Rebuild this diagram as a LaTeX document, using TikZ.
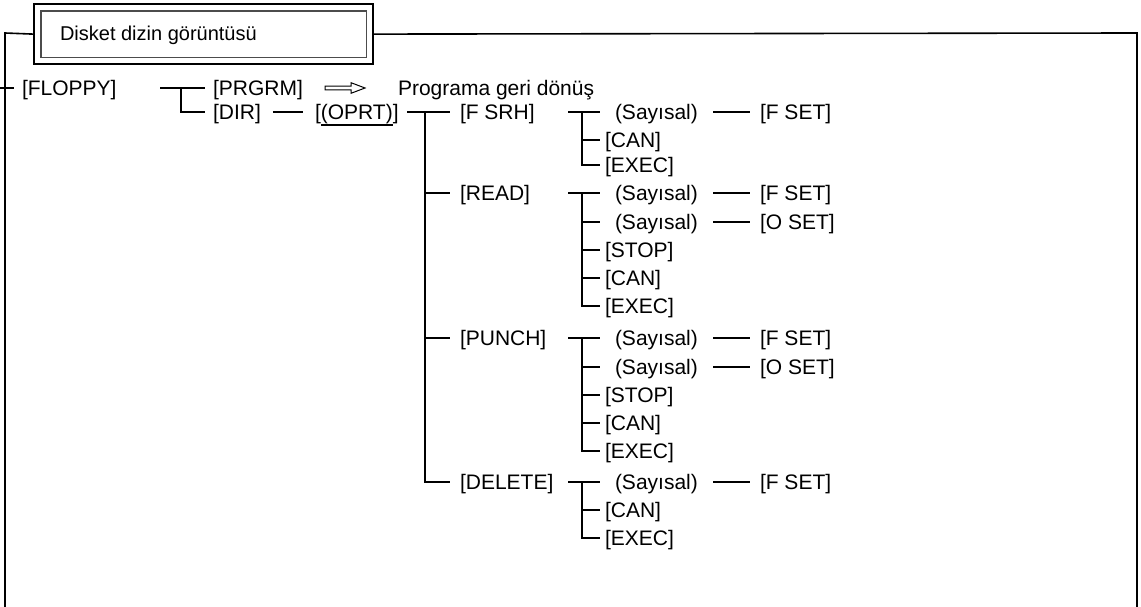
\documentclass[tikz,border=0pt]{standalone}
\usepackage{fontspec}
\setmainfont{Liberation Sans}
\usetikzlibrary{calc}
\newcommand\ulbox[1]{\setbox0\hbox{#1}\leavevmode\rlap{\rule[-6.2pt]{\wd0}{1.7pt}}\box0}
\def\yF{88}
\def\rA{112}\def\rB{140}\def\rC{165}
\def\rD{193}\def\rE{222}\def\rF{250}\def\rG{278}\def\rH{306}
\def\rI{338}\def\rJ{367}\def\rK{395}\def\rL{423}\def\rM{451}
\def\rN{482}\def\rO{510}\def\rP{538}
\begin{document}
\begin{tikzpicture}[x=1pt,y=-1pt,
  lbl/.style={anchor=west, inner sep=0pt, outer sep=0pt, text height=15pt, text depth=0pt, font=\fontsize{21}{25}\selectfont},
  con/.style={line width=1.6pt},
  framel/.style={line width=1.6pt},
  hdrbox/.style={draw, line width=2.2pt, anchor=north west, inner sep=0pt, minimum width=339pt, minimum height=60pt}]
\useasboundingbox (0,0) rectangle (1141,607);
% header
\node[hdrbox] (hdr) at (33,3) {};
\draw[line width=1.2pt, draw=black!70] ($(hdr.north west)+(8,8)$) rectangle ($(hdr.south east)+(-8,-8)$);
\node[lbl, font=\fontsize{20}{24}\selectfont, text height=14.3pt] (hdrt) at (60,33) {Disket dizin görüntüsü};
% frame
\draw[framel] (5,607) -- (5,33) -- (hdr.west);
\draw[framel] (hdr.east) -- (1137,33) -- (1137,607);
% level 0/1
\node[lbl] (floppy) at (22,\yF) {[FLOPPY]};
\node[lbl] (prgrm) at (213,\yF) {[PRGRM]};
\node[lbl] (prog) at (398,\yF) {Programa geri dönüş};
\node[lbl] (dir) at (213,\rA) {[DIR]};
\node[lbl] (oprt) at (315,\rA) {[\ulbox{(OPRT)}]};
\coordinate (t0) at (0,\yF);
\draw[con] (t0) -- ($(floppy.west)+(-8,0)$);
\coordinate (j1s) at (160,\yF);
\coordinate (j1) at (181,\yF);
\draw[con] (j1s) -- ($(prgrm.west)+(-8,0)$);
\draw[con] (j1) |- ($(dir.west)+(-8,0)$);
\draw[con] ($(dir.east)+(12,0)$) -- ($(oprt.west)+(-12,0)$);
% arrow
\coordinate (a1) at (325,\yF);
\draw[line width=1pt, line join=miter] ($(a1)+(0,-1.8)$) -- ($(a1)+(26,-1.8)$) -- ($(a1)+(26,-5.3)$) -- ($(a1)+(40,0)$) -- ($(a1)+(26,5.3)$) -- ($(a1)+(26,1.8)$) -- ($(a1)+(0,1.8)$) -- cycle;
% level 2
\node[lbl] (fsrh) at (460,\rA) {[F SRH]};
\node[lbl] (read) at (460,\rD) {[READ]};
\node[lbl] (punch) at (460,\rI) {[PUNCH]};
\node[lbl] (delete) at (460,\rN) {[DELETE]};
\coordinate (j2s) at (407,\rA);
\coordinate (j2) at (425,\rA);
\draw[con] (j2s) -- ($(fsrh.west)+(-10,0)$);
\draw[con] (j2) |- ($(delete.west)+(-10,0)$);
\draw[con] (j2 |- read.west) -- ($(read.west)+(-10,0)$);
\draw[con] (j2 |- punch.west) -- ($(punch.west)+(-10,0)$);
% group 1
\node[lbl] (s11) at (615,\rA) {(Sayısal)};
\node[lbl] (fset1) at (760,\rA) {[F SET]};
\node[lbl] (can1) at (605,\rB) {[CAN]};
\node[lbl] (exec1) at (605,\rC) {[EXEC]};
\coordinate (g1s) at (568,\rA);
\coordinate (g1) at (582,\rA);
\draw[con] (g1s) -- ($(s11.west)+(-15,0)$);
\draw[con] (g1) |- ($(exec1.west)+(-5,0)$);
\draw[con] (g1 |- can1.west) -- ($(can1.west)+(-5,0)$);
\draw[con] ($(fset1.west)+(-47,0)$) -- ($(fset1.west)+(-10,0)$);
% group 2
\node[lbl] (s21) at (615,\rD) {(Sayısal)};
\node[lbl] (fset2) at (760,\rD) {[F SET]};
\node[lbl] (s22) at (615,\rE) {(Sayısal)};
\node[lbl] (oset2) at (760,\rE) {[O SET]};
\node[lbl] (stop2) at (605,\rF) {[STOP]};
\node[lbl] (can2) at (605,\rG) {[CAN]};
\node[lbl] (exec2) at (605,\rH) {[EXEC]};
\coordinate (g2s) at (568,\rD);
\coordinate (g2) at (582,\rD);
\draw[con] (g2s) -- ($(s21.west)+(-15,0)$);
\draw[con] (g2) |- ($(exec2.west)+(-5,0)$);
\draw[con] (g2 |- s22.west) -- ($(s22.west)+(-15,0)$);
\draw[con] (g2 |- stop2.west) -- ($(stop2.west)+(-5,0)$);
\draw[con] (g2 |- can2.west) -- ($(can2.west)+(-5,0)$);
\draw[con] ($(fset2.west)+(-47,0)$) -- ($(fset2.west)+(-10,0)$);
\draw[con] ($(oset2.west)+(-47,0)$) -- ($(oset2.west)+(-10,0)$);
% group 3
\node[lbl] (s31) at (615,\rI) {(Sayısal)};
\node[lbl] (fset3) at (760,\rI) {[F SET]};
\node[lbl] (s32) at (615,\rJ) {(Sayısal)};
\node[lbl] (oset3) at (760,\rJ) {[O SET]};
\node[lbl] (stop3) at (605,\rK) {[STOP]};
\node[lbl] (can3) at (605,\rL) {[CAN]};
\node[lbl] (exec3) at (605,\rM) {[EXEC]};
\coordinate (g3s) at (568,\rI);
\coordinate (g3) at (582,\rI);
\draw[con] (g3s) -- ($(s31.west)+(-15,0)$);
\draw[con] (g3) |- ($(exec3.west)+(-5,0)$);
\draw[con] (g3 |- s32.west) -- ($(s32.west)+(-15,0)$);
\draw[con] (g3 |- stop3.west) -- ($(stop3.west)+(-5,0)$);
\draw[con] (g3 |- can3.west) -- ($(can3.west)+(-5,0)$);
\draw[con] ($(fset3.west)+(-47,0)$) -- ($(fset3.west)+(-10,0)$);
\draw[con] ($(oset3.west)+(-47,0)$) -- ($(oset3.west)+(-10,0)$);
% group 4
\node[lbl] (s41) at (615,\rN) {(Sayısal)};
\node[lbl] (fset4) at (760,\rN) {[F SET]};
\node[lbl] (can4) at (605,\rO) {[CAN]};
\node[lbl] (exec4) at (605,\rP) {[EXEC]};
\coordinate (g4s) at (568,\rN);
\coordinate (g4) at (582,\rN);
\draw[con] (g4s) -- ($(s41.west)+(-15,0)$);
\draw[con] (g4) |- ($(exec4.west)+(-5,0)$);
\draw[con] (g4 |- can4.west) -- ($(can4.west)+(-5,0)$);
\draw[con] ($(fset4.west)+(-47,0)$) -- ($(fset4.west)+(-10,0)$);
\end{tikzpicture}
\end{document}
